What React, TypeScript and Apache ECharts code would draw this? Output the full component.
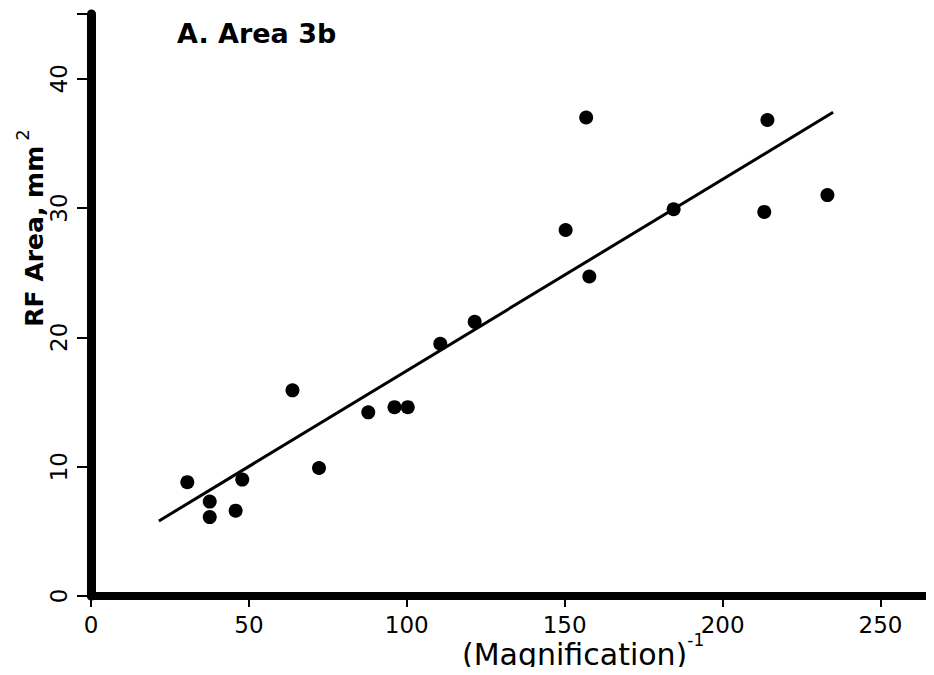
import React, { useEffect, useRef } from "react";
import * as echarts from "echarts";

// (Magnification)^-1 values and RF area (mm^2) for each recorded point
const magnificationInv = [30.5, 37.6, 37.6, 45.8, 47.9, 63.8, 72.2, 87.8, 96.1, 100.3, 110.6, 121.5, 150.3, 156.8, 157.8, 184.5, 213.2, 214.2, 233.2];
const rfArea = [8.8, 7.3, 6.1, 6.6, 9.0, 15.9, 9.9, 14.2, 14.6, 14.6, 19.5, 21.2, 28.3, 37.0, 24.7, 29.9, 29.7, 36.8, 31.0];

// regression line end points
const fitX = [21.5, 235];
const fitY = [5.8, 37.4];

const xTicks = [0, 50, 100, 150, 200, 250];
const yTicks = [0, 10, 20, 30, 40];

const FONT = "DejaVu Sans";

export default function App() {
  const ref = useRef<HTMLDivElement>(null);
  useEffect(() => {
    if (!ref.current) return;
    const chart = echarts.init(ref.current, null, { renderer: "svg" });
    const points = magnificationInv.map((x, i) => [x, rfArea[i]]);
    const fit = fitX.map((x, i) => [x, fitY[i]]);
    chart.setOption({
      animation: false,
      backgroundColor: "#ffffff",
      grid: { left: 91, right: 0, top: 14, bottom: 79 },
      xAxis: {
        type: "value",
        min: 0,
        max: 266,
        interval: 50,
        splitLine: { show: false },
        axisLine: { show: true, onZero: false, lineStyle: { color: "#000", width: 8 } },
        axisTick: { show: true, length: 11, lineStyle: { color: "#000", width: 2 } },
        axisLabel: {
          color: "#000",
          fontFamily: FONT,
          fontSize: 23,
          margin: 17,
          formatter: (v: number) => (xTicks.includes(v) ? String(v) : ""),
        },
      },
      yAxis: {
        type: "value",
        min: 0,
        max: 45,
        interval: 10,
        splitLine: { show: false },
        axisLine: { show: true, onZero: false, lineStyle: { color: "#000", width: 9 } },
        axisTick: { show: true, length: 14, lineStyle: { color: "#000", width: 2 } },
        axisLabel: {
          color: "#000",
          fontFamily: FONT,
          fontSize: 23,
          rotate: 90,
          margin: 21,
          formatter: (v: number) => (yTicks.includes(v) ? String(v) : ""),
        },
      },
      series: [
        {
          type: "line",
          data: fit,
          symbol: "none",
          lineStyle: { color: "#000", width: 3 },
          z: 2,
        },
        {
          type: "scatter",
          data: points,
          symbol: "circle",
          symbolSize: 14,
          itemStyle: { color: "#000", opacity: 1 },
          z: 3,
        },
      ],
      graphic: [
        {
          type: "text",
          left: 177,
          top: 20,
          style: {
            text: "A. Area 3b",
            fontFamily: FONT,
            fontSize: 27,
            fontWeight: "bold",
            fill: "#000",
          },
        },
        {
          type: "text",
          x: 30,
          y: 228,
          rotation: Math.PI / 2,
          style: {
            text: "{a|RF Area, mm}{s|2}",
            align: "center",
            verticalAlign: "middle",
            fill: "#000",
            rich: {
              a: { fontFamily: FONT, fontSize: 25, fontWeight: "bold", lineHeight: 34, verticalAlign: "bottom", fill: "#000" },
              s: { fontFamily: FONT, fontSize: 18, lineHeight: 18, verticalAlign: "top", padding: [0, 0, 0, 5], fill: "#000" },
            },
          },
        },
        {
          type: "text",
          x: 462,
          y: 650,
          style: {
            text: "{a|(Magnification)}{s|-1}",
            align: "left",
            verticalAlign: "middle",
            fill: "#000",
            rich: {
              a: { fontFamily: FONT, fontSize: 30, lineHeight: 38, verticalAlign: "bottom", fill: "#000" },
              s: { fontFamily: FONT, fontSize: 17, lineHeight: 17, verticalAlign: "top", fill: "#000" },
            },
          },
        },
      ],
    });
    return () => chart.dispose();
  }, []);
  return <div ref={ref} style={{ width: 934, height: 675, margin: -8 }} />;
}
